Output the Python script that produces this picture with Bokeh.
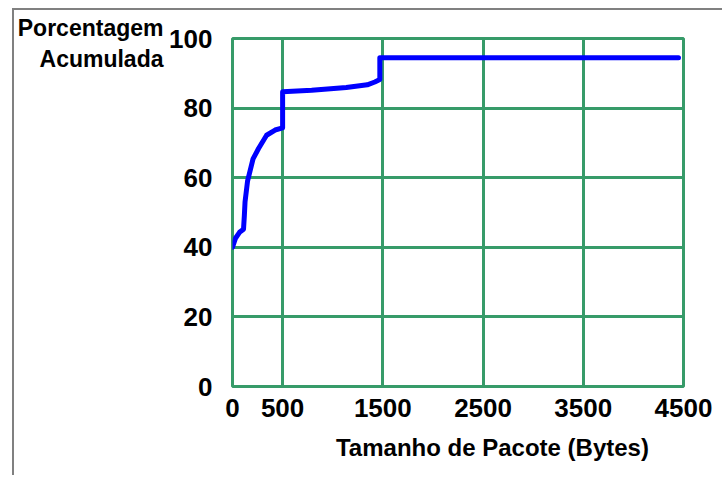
from bokeh.plotting import figure
from bokeh.models import FixedTicker, Range1d, LinearAxis
from bokeh.embed import file_html
from bokeh.resources import INLINE

# Data (packet size in bytes vs cumulative percentage)
packet_size = [0, 30, 70, 110, 118, 125, 150, 205, 260, 340, 425, 500, 500,
               790, 1135, 1345, 1420, 1470, 1470, 4450]
cum_pct = [40, 42.6, 44.3, 45.2, 49, 53, 59, 65.4, 68.4, 72.2, 73.7, 74.3, 84.7,
           85.1, 85.9, 86.7, 87.5, 88.2, 94.5, 94.5]

x_ticks = [0, 500, 1500, 2500, 3500, 4500]
y_ticks = [0, 20, 40, 60, 80, 100]

y_title = "Porcentagem\nAcumulada"
x_title = "Tamanho de Pacote (Bytes)"

GREEN = "#379B69"
BLUE = "#0000FF"
FONT = "Liberation Sans"

p = figure(width=710, height=467, output_backend="svg", toolbar_location=None,
           x_range=Range1d(0, 4500), y_range=Range1d(0, 100),
           min_border_left=218, min_border_right=41, min_border_top=28,
           min_border_bottom=91)

p.styles = {"margin-left": "12px", "margin-top": "8px",
            "border-left": "2px solid #808080",
            "border-top": "2px solid #808080"}

p.outline_line_color = GREEN
p.outline_line_width = 3

for g, t in ((p.xgrid, x_ticks), (p.ygrid, y_ticks)):
    g.ticker = FixedTicker(ticks=t)
    g.grid_line_color = GREEN
    g.grid_line_width = 3
    g.grid_line_alpha = 1.0


def style_axis(ax, size):
    ax.axis_line_color = None
    ax.major_tick_line_color = None
    ax.minor_tick_line_color = None
    ax.major_label_text_font = FONT
    ax.major_label_text_font_style = "bold"
    ax.major_label_text_font_size = size
    ax.major_label_text_color = "black"


p.xaxis.ticker = FixedTicker(ticks=x_ticks)
p.yaxis.ticker = FixedTicker(ticks=y_ticks)
style_axis(p.xaxis[0], "26px")
style_axis(p.yaxis[0], "26px")
p.xaxis[0].major_label_standoff = 6
p.yaxis[0].major_label_standoff = 14

# axis titles drawn as single tick labels of extra axes, so they sit outside the frame
x_title_pos = 2594.0
y_title_pos = 98.6
xt = LinearAxis(ticker=FixedTicker(ticks=[x_title_pos]),
                major_label_overrides={x_title_pos: x_title})
style_axis(xt, "24px")
xt.major_label_standoff = 8
p.add_layout(xt, "below")

yt = LinearAxis(ticker=FixedTicker(ticks=[y_title_pos]),
                major_label_overrides={y_title_pos: y_title})
style_axis(yt, "23px")
yt.major_label_standoff = -3
yt.major_label_text_line_height = 1.2
p.add_layout(yt, "left")

p.line(packet_size, cum_pct, line_color=BLUE, line_width=5,
       line_cap="round", line_join="round")

open("out.html", "w").write(file_html(p, INLINE))
